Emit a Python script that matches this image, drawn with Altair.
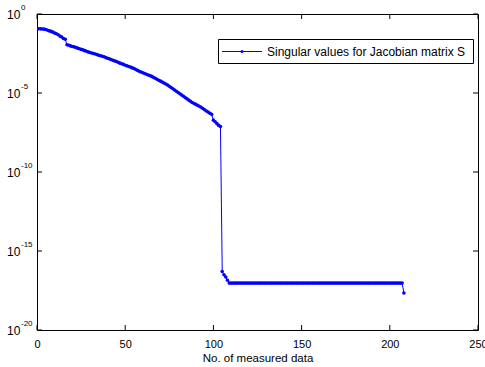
import altair as alt
import pandas as pd

# log10 of singular values, index 1..208
exps_upper = [
    -0.93, -0.94, -0.95, -0.96, -0.98, -1.03, -1.07, -1.10, -1.15, -1.21,
    -1.25, -1.31, -1.40, -1.46, -1.55, -1.60, -1.95, -1.98, -2.02, -2.06,
    -2.08, -2.12, -2.16, -2.20, -2.24, -2.27, -2.32, -2.36, -2.40, -2.44,
    -2.47, -2.50, -2.53, -2.57, -2.61, -2.64, -2.67, -2.71, -2.76, -2.80,
    -2.84, -2.88, -2.93, -2.97, -3.01, -3.06, -3.11, -3.15, -3.19, -3.24,
    -3.28, -3.32, -3.36, -3.41, -3.45, -3.51, -3.57, -3.63, -3.67, -3.72,
    -3.77, -3.81, -3.86, -3.90, -3.95, -4.01, -4.07, -4.13, -4.19, -4.25,
    -4.31, -4.37, -4.43, -4.49, -4.57, -4.65, -4.73, -4.81, -4.89, -4.97,
    -5.05, -5.13, -5.21, -5.29, -5.37, -5.45, -5.53, -5.60, -5.66, -5.72,
    -5.78, -5.84, -5.90, -5.98, -6.06, -6.14, -6.21, -6.28, -6.35, -6.72,
    -6.82, -6.94, -7.05, -7.12,
]
exps_lower = [
    -16.30, -16.50, -16.65, -16.85,
    -17.03, -17.03, -17.03, -17.03, -17.03, -17.03, -17.03, -17.03, -17.03, -17.03,
    -17.03, -17.03, -17.03, -17.03, -17.03, -17.03, -17.03, -17.03, -17.03, -17.03,
    -17.03, -17.03, -17.03, -17.03, -17.03, -17.03, -17.03, -17.03, -17.03, -17.03,
    -17.03, -17.03, -17.03, -17.03, -17.03, -17.03, -17.03, -17.03, -17.03, -17.03,
    -17.03, -17.03, -17.03, -17.03, -17.03, -17.03, -17.03, -17.03, -17.03, -17.03,
    -17.03, -17.03, -17.03, -17.03, -17.03, -17.03, -17.03, -17.03, -17.03, -17.03,
    -17.03, -17.03, -17.03, -17.03, -17.03, -17.03, -17.03, -17.03, -17.03, -17.03,
    -17.03, -17.03, -17.03, -17.03, -17.03, -17.03, -17.03, -17.03, -17.03, -17.03,
    -17.03, -17.03, -17.03, -17.03, -17.03, -17.03, -17.03, -17.03, -17.03, -17.03,
    -17.03, -17.03, -17.03, -17.03, -17.03, -17.03, -17.03, -17.03, -17.03,
    -17.66,
]
exps = exps_upper + exps_lower
idx = list(range(1, len(exps) + 1))

x_ticks = [0, 50, 100, 150, 200, 250]
y_ticks = [1e0, 1e-5, 1e-10, 1e-15, 1e-20]
y_tick_exp = ["0", "-5", "-10", "-15", "-20"]
legend_label = "Singular values for Jacobian matrix S"
x_title = "No. of measured data"

W, H = 441, 316
BLUE = "#0000ff"
FONT = "Liberation Sans"

df = pd.DataFrame({"x": idx, "v": [10 ** e for e in exps]})
dx = pd.DataFrame({"x": x_ticks})
dy = pd.DataFrame({"v": y_ticks, "e": y_tick_exp})
dl = pd.DataFrame({"label": [legend_label]})

xscale = alt.Scale(domain=[0, 250], nice=False, zero=False)
yscale = alt.Scale(type="log", domain=[1e-20, 1], nice=False)
xaxis = alt.Axis(values=x_ticks, ticks=False, tickSize=0, domain=False, grid=False,
                 labelFontSize=11, labelFont=FONT, labelColor="black", labelPadding=8,
                 labelFlush=False, labelOverlap=False,
                 title=x_title, titleFont=FONT, titleFontSize=11.5,
                 titleFontWeight="normal", titleColor="black", titlePadding=3)


def X():
    return alt.X("x:Q", scale=xscale, axis=xaxis)


def Y():
    return alt.Y("v:Q", scale=yscale, axis=None)


line = alt.Chart(df).mark_line(color=BLUE, strokeWidth=1, clip=True).encode(x=X(), y=Y())
pts = alt.Chart(df).mark_point(color=BLUE, filled=True, size=13, opacity=1, clip=True).encode(x=X(), y=Y())

xt_top = alt.Chart(dx).mark_rule(color="black", strokeWidth=1).encode(
    x=X(), y=alt.value(0), y2=alt.value(5))
xt_bot = alt.Chart(dx).mark_rule(color="black", strokeWidth=1).encode(
    x=X(), y=alt.value(H), y2=alt.value(H - 5))
yt_left = alt.Chart(dy).mark_rule(color="black", strokeWidth=1).encode(
    y=Y(), x=alt.value(0), x2=alt.value(5))
yt_right = alt.Chart(dy).mark_rule(color="black", strokeWidth=1).encode(
    y=Y(), x=alt.value(W), x2=alt.value(W - 5))

ylab_base = alt.Chart(dy).mark_text(align="left", baseline="middle", fontSize=12,
                                    font=FONT, color="black", dy=1).encode(
    y=Y(), x=alt.value(-30), text=alt.value("10"))
ylab_exp = alt.Chart(dy).mark_text(align="left", baseline="middle", fontSize=8,
                                   font=FONT, color="black", dy=-6).encode(
    y=Y(), x=alt.value(-16), text="e:N")

leg_box = alt.Chart(dl).mark_rect(fill="white", stroke="black", strokeWidth=1).encode(
    x=alt.value(181.5), x2=alt.value(436.5), y=alt.value(25.5), y2=alt.value(49.5))
leg_line = alt.Chart(dl).mark_rule(color=BLUE, strokeWidth=1).encode(
    x=alt.value(185), x2=alt.value(225), y=alt.value(37.5))
leg_dot = alt.Chart(dl).mark_point(color=BLUE, filled=True, size=9, opacity=1).encode(
    x=alt.value(205), y=alt.value(37.5))
leg_text = alt.Chart(dl).mark_text(align="left", baseline="middle", fontSize=12,
                                   font=FONT, color="black").encode(
    x=alt.value(230), y=alt.value(38), text="label:N")

chart = alt.layer(
    line, pts, xt_top, xt_bot, yt_left, yt_right, ylab_base, ylab_exp,
    leg_box, leg_line, leg_dot, leg_text
).properties(
    width=W, height=H,
    autosize=alt.AutoSizeParams(type="none"),
    padding={"left": 37, "top": 14, "right": 7, "bottom": 37},
    background="white",
).configure_view(stroke="black", strokeWidth=1)

chart.save("out.html", embed_options={"renderer": "svg", "actions": False})
